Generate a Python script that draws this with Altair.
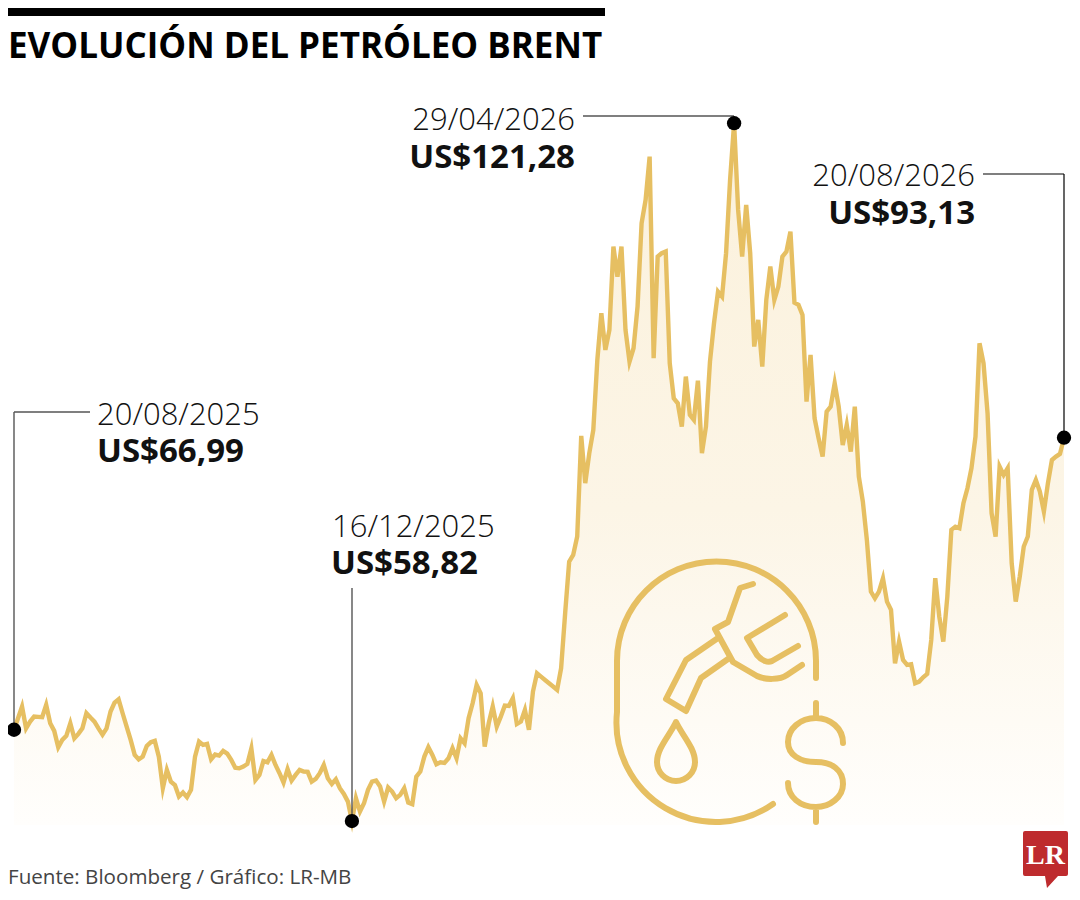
import altair as alt
import pandas as pd

TITLE = "EVOLUCIÓN DEL PETRÓLEO BRENT"
SOURCE = "Fuente: Bloomberg / Gráfico: LR-MB"

# Brent price per trading session
brent = [
    66.99, 68.02, 69.06, 67.12, 67.72, 68.17, 68.14, 68.11, 69.21, 67.57,
    66.89, 65.42, 66.08, 66.44, 67.57, 66.23, 66.62, 67.12, 68.47, 68.08,
    67.72, 67.12, 66.56, 67.12, 68.62, 69.42, 69.72, 68.47, 67.27, 66.08,
    64.74, 64.35, 64.59, 65.54, 65.87, 65.99, 64.59, 61.76, 63.40, 62.35,
    62.05, 61.01, 61.37, 60.95, 61.61, 64.59, 65.93, 65.63, 65.72, 64.35,
    64.77, 64.68, 65.10, 64.86, 64.29, 63.60, 63.54, 63.69, 63.93, 65.33,
    62.50, 62.95, 64.20, 64.08, 64.74, 63.84, 63.10, 62.26, 63.46, 62.44,
    62.95, 63.40, 63.25, 63.22, 62.35, 62.59, 63.10, 63.84, 62.65, 62.14,
    62.56, 61.76, 61.25, 60.56, 58.82, 60.86, 59.67, 60.41, 61.61, 62.35,
    62.44, 61.91, 60.56, 61.82, 61.46, 60.86, 61.16, 61.76, 60.47, 60.33,
    62.80, 63.25, 64.59, 65.43, 64.74, 63.90, 64.08, 64.02, 64.44, 65.34,
    64.44, 66.23, 65.78, 68.02, 69.36, 71.00, 70.26, 65.49, 67.57, 69.07,
    67.28, 68.17, 69.15, 69.12, 69.81, 67.51, 67.72, 68.77, 66.98, 70.41,
    72.05, 71.75, 71.45, 71.15, 70.86, 70.56, 72.50, 77.42, 82.04, 82.64,
    84.28, 93.29, 89.06, 91.74, 93.83, 100.09, 104.27, 100.99, 102.78, 110.23,
    107.55, 110.23, 102.78, 99.94, 101.14, 104.87, 112.32, 114.41, 118.29, 100.24,
    109.34, 109.64, 109.79, 99.79, 96.66, 96.21, 94.13, 98.60, 95.17, 94.72,
    98.24, 91.74, 94.13, 99.94, 103.37, 106.21, 105.76, 109.64, 116.20, 121.28,
    113.52, 109.34, 113.97, 109.64, 101.29, 103.67, 99.50, 105.47, 108.45, 105.47,
    106.66, 109.34, 109.79, 111.58, 105.22, 105.02, 104.12, 96.36, 100.54, 94.87,
    93.08, 91.44, 95.47, 95.92, 98.00, 95.91, 92.48, 94.27, 91.89, 95.91,
    89.65, 87.41, 83.98, 79.36, 78.76, 79.36, 80.55, 78.46, 77.72, 72.94,
    74.88, 73.24, 72.80, 72.86, 71.15, 71.30, 71.69, 71.99, 75.03, 80.55,
    77.12, 74.88, 78.91, 84.88, 85.17, 85.03, 87.26, 88.61, 90.40, 93.23,
    101.58, 99.79, 95.32, 86.37, 84.28, 90.54, 89.80, 90.40, 81.89, 78.46,
    80.70, 83.39, 84.28, 88.46, 89.35, 88.31, 86.52, 89.05, 91.14, 91.44,
    91.68, 93.13,
]
key_sessions = [0, 84, 179, 261]
key_prices = [66.99, 58.82, 121.28, 93.13]
AREA_FLOOR = 58.47

LINE = "#E6BF62"
INK = "#111111"
LEAD = "#555555"
RED = "#BE2B2E"

W, H = 1064, 884
x_scale = alt.Scale(domain=[-1.491, 262.99], nice=False, zero=False)
y_scale = alt.Scale(domain=[52.47, 131.59], nice=False, zero=False)
X = alt.X("session:Q", scale=x_scale, axis=None)
Y = alt.Y("price:Q", scale=y_scale, axis=None)

df = pd.DataFrame({"session": range(len(brent)), "price": brent})
df["floor"] = AREA_FLOOR
keys = pd.DataFrame({"session": key_sessions, "price": key_prices})
one = alt.Data(values=[{"k": 1}])

area = alt.Chart(df).mark_area(
    color=alt.LinearGradient(
        gradient="linear", x1=0, x2=0, y1=0, y2=1,
        stops=[
            alt.GradientStop(color="#FBF1DC", offset=0),
            alt.GradientStop(color="#FCF5E6", offset=0.55),
            alt.GradientStop(color="#FFFEFC", offset=1),
        ],
    )
).encode(x=X, y=Y, y2="floor:Q")

line = alt.Chart(df).mark_line(
    color=LINE, strokeWidth=4.4, strokeJoin="miter", strokeMiterLimit=6
).encode(x=X, y=Y)

dots = alt.Chart(keys).mark_circle(size=205, color="#000000", opacity=1).encode(x=X, y=Y)


def label(text, x, y, size, weight=400, align="left", color=INK, font="Open Sans"):
    """Text placed by its page position; the page margin is 8px."""
    return alt.Chart(one).mark_text(
        font=font, fontSize=size, fontWeight=weight, align=align,
        baseline="alphabetic", color=color,
    ).encode(x=alt.value(x - 8), y=alt.value(y - 8), text=alt.value(text))


def rule(x1, y1, x2, y2, color=LEAD, width=1.4):
    return alt.Chart(one).mark_rule(color=color, strokeWidth=width).encode(
        x=alt.value(x1 - 8), x2=alt.value(x2 - 8), y=alt.value(y1 - 8), y2=alt.value(y2 - 8)
    )


def glyph(path, **kw):
    """A drawn symbol whose path is written in page pixels."""
    return alt.Chart(one).mark_point(shape=path, size=4, opacity=1, **kw).encode(
        x=alt.value(-8), y=alt.value(-8)
    )


top_bar = alt.Chart(one).mark_rect(color="#000000").encode(
    x=alt.value(0), x2=alt.value(597), y=alt.value(0), y2=alt.value(8)
)

ICON = (
    "M816,678 L816,661 A99.5,99.5 0 0 0 617,661 L617,712 A99.5,99.5 0 0 0 773,804 "
    "M718,638 L686,660 L666,699 L686,711 L701,678 L728,659 "
    "M753,584 L740,588 L728,622 L715,629 L733,662 L757,676 C765,680 780,680 787,675 L802,665 "
    "M785,615 L747,638 L757,655 C762,661 768,663 772,661 L798,646 "
    "M676,722 C670,735 657,748 657,762 A19,19 0 0 0 695,762 C695,748 682,735 676,722 Z "
    "M816,703 L816,718 M816,807 L816,822 "
    "M843,743 C843,728 830,718 816,718 C800,718 788,729 788,742 C788,755 800,762 816,762 "
    "C832,762 843,770 843,784 C843,797 830,807 816,807 C800,807 788,797 788,783"
)
icon = glyph(ICON, filled=False, color=LINE, strokeWidth=6, strokeCap="round", strokeJoin="round")

LOGO = (
    "M1025,831 L1066,831 Q1068,831 1068,833 L1068,874 Q1068,876 1066,876 L1058,876 "
    "L1047,888 L1045,876 L1025,876 Q1023,876 1023,874 L1023,833 Q1023,831 1025,831 Z"
)
logo = glyph(LOGO, filled=True, color=RED, strokeWidth=0)

layers = [
    area, line, icon,
    rule(14, 412, 14, 728), rule(14, 412, 90, 412),
    rule(352, 588, 352, 824),
    rule(583, 116, 734, 116), rule(734, 116, 734, 125),
    rule(983, 174, 1064, 174, color="#000000", width=1.2),
    rule(1064, 174, 1064, 435, color="#000000", width=1.2),
    dots, top_bar,
    label(TITLE, 8, 58, 35, 700, color="#000000"),
    label("20/08/2025", 97, 425, 31, 300),
    label("US$66,99", 97, 462, 33, 700),
    label("16/12/2025", 332, 537, 31, 300),
    label("US$58,82", 331, 574, 33, 700),
    label("29/04/2026", 575, 130, 31, 300, "right"),
    label("US$121,28", 575, 168, 33, 700, "right"),
    label("20/08/2026", 975, 186, 31, 300, "right"),
    label("US$93,13", 975, 224, 33, 700, "right"),
    label(SOURCE, 8, 884, 20.6, 400, color="#444444"),
    logo,
    label("LR", 1045.5, 864, 28, 700, "center", "#FFFFFF", "Liberation Serif"),
]

chart = alt.layer(*layers).properties(
    width=W, height=H, padding=0,
    autosize=alt.AutoSizeParams(type="none"),
    background="#FFFFFF",
).configure_view(stroke=None)

chart.save("out.html", embed_options={"renderer": "svg", "actions": False})
